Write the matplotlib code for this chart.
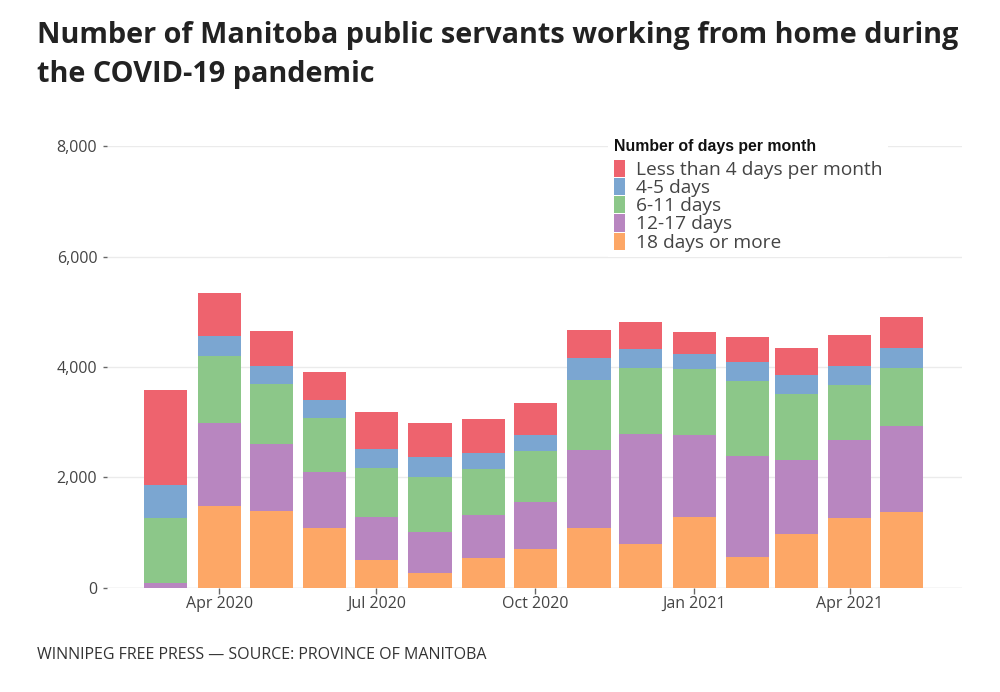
import datetime as dt
import matplotlib
matplotlib.use('Agg')
import matplotlib.pyplot as plt
import matplotlib.dates as mdates
from matplotlib.ticker import FuncFormatter

# ── Data ────────────────────────────────────────────────────────────────────
months = [dt.date(2020, m, 1) for m in range(3, 13)] + [dt.date(2021, m, 1) for m in range(1, 6)]

days_18_plus = [0, 1488, 1386, 1084, 506, 277, 548, 699, 1084, 789, 1277, 560, 976, 1265, 1373]
days_12_17   = [96, 1494, 1216, 1024, 777, 735, 771, 855, 1410, 1994, 1500, 1826, 1343, 1422, 1567]
days_6_11    = [1175, 1211, 1097, 976, 892, 1000, 826, 928, 1271, 1199, 1187, 1355, 1193, 982, 1048]
days_4_5     = [602, 367, 313, 320, 337, 361, 295, 283, 398, 343, 277, 343, 349, 355, 361]
days_lt_4    = [1711, 771, 639, 500, 681, 609, 614, 590, 506, 482, 398, 458, 488, 560, 561]

series = [
    ('18 days or more',            days_18_plus, '#FDA766'),
    ('12-17 days',                 days_12_17,   '#B886C0'),
    ('6-11 days',                  days_6_11,    '#8CC789'),
    ('4-5 days',                   days_4_5,     '#7BA6D1'),
    ('Less than 4 days per month', days_lt_4,    '#EE636E'),
]

tick_months = [dt.date(2020, 4, 1), dt.date(2020, 7, 1), dt.date(2020, 10, 1),
               dt.date(2021, 1, 1), dt.date(2021, 4, 1)]

# ── Plot ────────────────────────────────────────────────────────────────────
fig = plt.figure(figsize=(10, 6.92), dpi=100)
ax = fig.add_axes([0.107, 0.1503, 0.855, 0.6387])

bottom = [0] * len(months)
handles = []
for name, vals, col in series:
    b = ax.bar(months, vals, width=25, bottom=bottom, color=col, label=name, zorder=2)
    handles.append(b)
    bottom = [x + y for x, y in zip(bottom, vals)]

ax.set_ylim(0, 8000)
ax.set_xlim(months[0] - dt.timedelta(days=34), months[-1] + dt.timedelta(days=35))
ax.set_yticks([0, 2000, 4000, 6000, 8000])
ax.yaxis.set_major_formatter(FuncFormatter(lambda v, p: f'{int(v):,}'))
ax.set_xticks(tick_months)
ax.xaxis.set_major_formatter(mdates.DateFormatter('%b %Y'))

for spine in ax.spines.values():
    spine.set_visible(False)
ax.grid(axis='y', color='#EBEBEB', linewidth=1, zorder=0)
ax.axhline(0, color='#E4E4E4', linewidth=1, zorder=1)
ax.tick_params(axis='y', length=3, width=1, color='#666666', pad=4,
               labelsize=11.5, labelcolor='#444444')
ax.tick_params(axis='x', length=4, width=1, color='#666666', pad=2,
               labelsize=11.5, labelcolor='#444444')
for lbl in ax.get_xticklabels() + ax.get_yticklabels():
    lbl.set_fontfamily('Open Sans')

leg = ax.legend(handles[::-1], [s[0] for s in series][::-1],
                loc='upper left', bbox_to_anchor=(0.575, 1.05),
                frameon=True, facecolor='white', edgecolor='none', framealpha=1,
                fancybox=False, borderpad=0.3, labelspacing=-0.05,
                handlelength=0.55, handleheight=1.0, handletextpad=0.6,
                prop={'family': 'Open Sans', 'size': 13.8},
                title='Number of days per month',
                title_fontproperties={'family': 'Liberation Sans', 'weight': 'bold', 'size': 11.4})
leg._legend_box.align = 'left'
leg._legend_box.sep = 4
for t in leg.get_texts():
    t.set_color('#444444')
leg.get_title().set_color('#111111')
leg.set_zorder(5)

title_font = dict(fontsize=20.8, fontweight='bold', family='Open Sans', color='#222222',
                  ha='left', va='baseline')
fig.text(0.037, 1 - 43 / 692, 'Number of Manitoba public servants working from home during', **title_font)
fig.text(0.037, 1 - 82 / 692, 'the COVID-19 pandemic', **title_font)
fig.text(0.037, 1 - 659 / 692, 'WINNIPEG FREE PRESS — SOURCE: PROVINCE OF MANITOBA',
         fontsize=11.5, family='Open Sans', color='#333333', ha='left', va='baseline')

fig.savefig('out.png', dpi=100)
